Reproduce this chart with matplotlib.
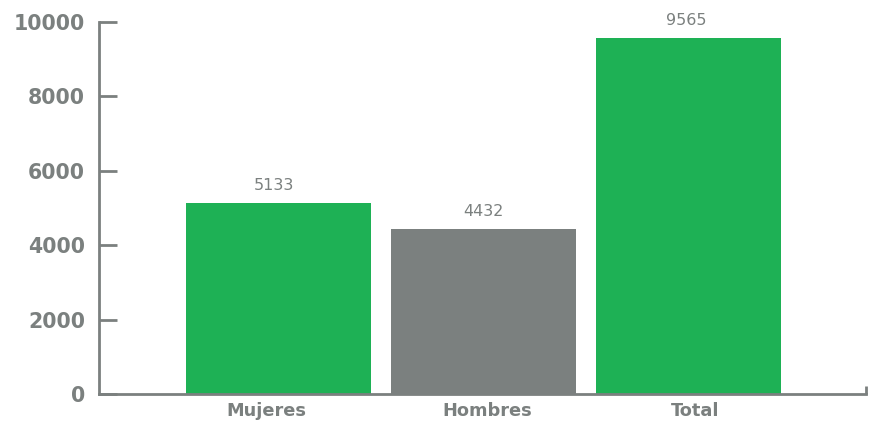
import matplotlib
matplotlib.use("Agg")
import matplotlib.pyplot as plt

# data
categories = ["Mujeres", "Hombres", "Total"]
values = [5133, 4432, 9565]
colors = ["#1EB155", "#7B807F", "#1EB155"]
yticks = [0, 2000, 4000, 6000, 8000, 10000]

grey = "#7B807F"
# small horizontal nudges (px) seen in the original label placement
label_dx = [-12.5, 4, 7]
value_dx = [-5, 0, -2]

fig = plt.figure(figsize=(8.7, 4.21), dpi=100)
ax = fig.add_axes([0.1138, 0.0641, 0.8816, 0.8836])

x = range(len(categories))
bars = ax.bar(x, values, width=0.9, color=colors, zorder=1)

for b, v, dx in zip(bars, values, value_dx):
    ax.annotate(str(v), (b.get_x() + b.get_width() / 2, v),
                xytext=(dx, 18), textcoords="offset pixels",
                ha="center", va="center", fontsize=11.5, color=grey)

# category labels under the axis
for xi, name, dx in zip(x, categories, label_dx):
    ax.annotate(name, (xi, 0), xycoords=("data", "axes fraction"),
                xytext=(dx, -8), textcoords="offset pixels",
                ha="center", va="top", fontsize=12.8, fontweight="bold",
                color=grey, annotation_clip=False)

xmin, xmax = -0.876, 2.866
ax.set_xlim(xmin, xmax)
ax.set_ylim(0, 10000)

ax.set_yticks(yticks)
ax.set_yticklabels([str(t) for t in yticks], fontsize=14.8, fontweight="bold", color=grey)
ax.set_xticks([])
ax.set_xticks([xmax], minor=True)

ax.tick_params(axis="y", direction="in", length=13, width=2, color=grey, pad=10)
ax.tick_params(axis="x", which="minor", direction="in", length=6, width=2, color=grey)

for s in ["top", "right"]:
    ax.spines[s].set_visible(False)
for s in ["left", "bottom"]:
    ax.spines[s].set_color(grey)
    ax.spines[s].set_linewidth(2)
    ax.spines[s].set_zorder(3)

fig.savefig("out.png", dpi=100)
